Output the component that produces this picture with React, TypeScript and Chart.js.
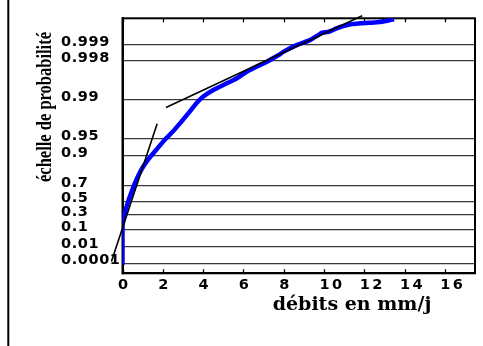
import React, { useEffect, useRef } from 'react';
import { Chart, registerables } from 'chart.js';

Chart.register(...registerables);

// Probability (non-exceedance) tick labels of the Gumbel probability paper
const probabilityLabels = ['0.0001', '0.01', '0.1', '0.3', '0.5', '0.7', '0.9', '0.95', '0.99', '0.998', '0.999'];
const probabilityValues = [0.0001, 0.01, 0.1, 0.3, 0.5, 0.7, 0.9, 0.95, 0.99, 0.998, 0.999];

// x axis ticks (débits en mm/j)
const xTickValues = [0, 2, 4, 6, 8, 10, 12, 14, 16];

// Empirical distribution: flows (mm/j) and Gumbel reduced variate u = -ln(-ln F)
const debits = [0, 0, 0.11, 0.28, 0.45, 0.63, 0.93, 1.26, 1.67, 2.09, 2.5, 2.92, 3.34, 3.67, 4.01, 4.51, 5.18, 5.68, 6.18, 6.67, 7.17, 7.75, 8.0, 8.67, 9.33, 9.74, 9.91, 10.24, 10.66, 11.16, 11.82, 12.65, 13.15, 13.48];
const reducedVariate = [-2.29, -0.69, -0.14, 0.35, 0.75, 1.15, 1.67, 2.09, 2.5, 2.92, 3.27, 3.68, 4.1, 4.45, 4.73, 5.0, 5.28, 5.49, 5.77, 5.98, 6.18, 6.46, 6.6, 6.88, 7.09, 7.3, 7.39, 7.43, 7.58, 7.71, 7.78, 7.83, 7.89, 7.95];

// Fitted straight lines (end points)
const fitLowX = [-0.55, 1.72];
const fitLowU = [-2.15, 3.59];
const fitHighX = [2.16, 11.9];
const fitHighU = [4.27, 8.1];

// Axis bounds (reduced variate / flow)
const yMin = -2.64;
const yMax = 7.99;
const xMin = 0;
const xMax = 17.5;

const gumbel = (p: number) => -Math.log(-Math.log(p));
const toPoints = (xs: number[], ys: number[]) => xs.map((x, i) => ({ x, y: ys[i] }));

const decorPlugin = {
  id: 'decor',
  beforeDraw(chart: any) {
    chart.ctx.letterSpacing = '0.6px';
  },
  beforeDatasetsDraw(chart: any) {
    const { ctx, chartArea } = chart;
    const xs = chart.scales.x;
    ctx.save();
    ctx.strokeStyle = '#000';
    ctx.lineWidth = 2;
    ctx.strokeRect(chartArea.left, chartArea.top, chartArea.right - chartArea.left, chartArea.bottom - chartArea.top);
    ctx.lineWidth = 1.3;
    ctx.beginPath();
    xTickValues.forEach((v) => {
      const px = Math.round(xs.getPixelForValue(v)) + 0.5;
      ctx.moveTo(px, chartArea.bottom);
      ctx.lineTo(px, chartArea.bottom - 4);
      ctx.moveTo(px, chartArea.top);
      ctx.lineTo(px, chartArea.top + 4);
    });
    ctx.stroke();
    ctx.restore();
  },
  afterDatasetsDraw(chart: any) {
    chart.ctx.letterSpacing = '2.5px';
  },
  afterDraw(chart: any) {
    const { ctx } = chart;
    ctx.save();
    ctx.letterSpacing = '0px';
    ctx.fillStyle = '#000';
    // left frame line of the figure
    ctx.fillRect(7.3, 0, 2, 346);
    // x title
    ctx.font = 'bold 19px "DejaVu Serif"';
    ctx.textAlign = 'center';
    ctx.textBaseline = 'alphabetic';
    ctx.fillText('débits en mm/j', 352, 310);
    // y title
    const txt = 'échelle de probabilité';
    ctx.font = 'bold 21px "Liberation Serif"';
    const w = ctx.measureText(txt).width;
    ctx.translate(51, 107);
    ctx.rotate(-Math.PI / 2);
    ctx.scale(150 / w, 1);
    ctx.fillText(txt, 0, 0);
    ctx.restore();
  },
};

export default function App() {
  const canvasRef = useRef<HTMLCanvasElement | null>(null);

  useEffect(() => {
    if (!canvasRef.current) return;
    const tickFont = { family: '"DejaVu Sans"', weight: 'bold' as const, size: 14.5 };
    const chart = new Chart(canvasRef.current, {
      type: 'line',
      data: {
        datasets: [
          {
            label: 'ajustement bas',
            data: toPoints(fitLowX, fitLowU),
            borderColor: '#000',
            borderWidth: 1.6,
            pointRadius: 0,
            clip: false as any,
          },
          {
            label: 'ajustement haut',
            data: toPoints(fitHighX, fitHighU),
            borderColor: '#000',
            borderWidth: 1.6,
            pointRadius: 0,
            clip: false as any,
          },
          {
            label: 'distribution empirique',
            data: toPoints(debits, reducedVariate),
            borderColor: '#0000ff',
            borderWidth: 4.5,
            pointRadius: 0,
            tension: 0.25,
            borderJoinStyle: 'round',
          },
        ],
      },
      options: {
        animation: false,
        responsive: false,
        events: [],
        layout: { padding: { left: 61, top: 18.3, right: 8, bottom: 0 } },
        plugins: { legend: { display: false }, tooltip: { enabled: false } },
        scales: {
          x: {
            type: 'linear',
            min: xMin,
            max: xMax,
            afterFit(scale: any) {
              scale.height = 72.7;
            },
            afterBuildTicks(scale: any) {
              scale.ticks = xTickValues.map((v) => ({ value: v }));
            },
            ticks: {
              font: tickFont,
              color: '#000',
              align: 'start',
              labelOffset: -4.5,
              padding: 3,
              autoSkip: false,
              maxRotation: 0,
              z: 1,
            },
            grid: { display: false, drawTicks: false },
            border: { display: true, color: '#000', width: 2 },
          },
          y: {
            type: 'linear',
            min: yMin,
            max: yMax,
            afterFit(scale: any) {
              scale.width = 61.5;
            },
            afterBuildTicks(scale: any) {
              scale.ticks = probabilityValues.map((p) => ({ value: gumbel(p) }));
            },
            ticks: {
              callback: (_v: any, i: number) => probabilityLabels[i],
              font: tickFont,
              color: '#000',
              crossAlign: 'far',
              labelOffset: -2.5,
              padding: 0,
              autoSkip: false,
            },
            grid: { color: '#3a3a3a', lineWidth: 1.3, drawTicks: false },
            border: { display: true, color: '#000', width: 2 },
          },
        },
      },
      plugins: [decorPlugin],
    } as any);
    return () => chart.destroy();
  }, []);

  return (
    <div style={{ position: 'fixed', left: 0, top: 0, width: 483, height: 346, background: '#fff' }}>
      <canvas ref={canvasRef} width={483} height={346} style={{ display: 'block' }} />
    </div>
  );
}
